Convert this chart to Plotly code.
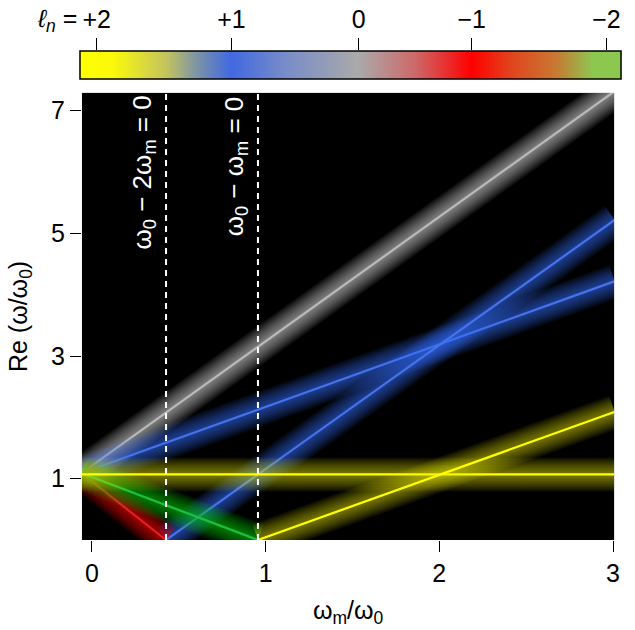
import numpy as np
import plotly.graph_objects as go

# ---------------- data ----------------
# x = omega_m / omega_0 ,  y = Re(omega / omega_0)
gray_x = [-0.06, 3.01]
gray_y = [1.09, 7.32]
blue1_x = [-0.06, 3.01]
blue1_y = [1.09, 4.22]
blue2_x = [0.427, 3.01]
blue2_y = [0.0, 5.22]
red_x = [-0.06, 0.427]
red_y = [1.09, 0.0]
green_x = [-0.06, 0.956]
green_y = [1.09, 0.0]
yellow1_x = [-0.06, 3.01]
yellow1_y = [1.07, 1.07]
yellow2_x = [0.956, 3.01]
yellow2_y = [0.0, 2.09]

dash_x = [0.427, 0.956]
dash_labels = ["ω<sub>0</sub> − 2ω<sub>m</sub> = 0", "ω<sub>0</sub> − ω<sub>m</sub> = 0"]

x_ticks = [0, 1, 2, 3]
y_ticks = [1, 3, 5, 7]

# colour bar (positions as fraction along the bar)
cb_tickpos = [0.031, 0.28, 0.515, 0.724, 0.973]
cb_ticktext = ["+2", "+1", "0", "−1", "−2"]

FONT = "Liberation Sans, Arial, Helvetica, sans-serif"
FS = 25

fig = go.Figure()

def glow_line(xs, ys, glow_rgb, core_rgb, core_w=2.2, alpha=0.07):
    r, g, b = glow_rgb
    for w in range(34, 3, -3):
        fig.add_trace(go.Scatter(x=xs, y=ys, mode="lines",
                                 line=dict(color=f"rgba({r},{g},{b},{alpha})", width=w),
                                 hoverinfo="skip", showlegend=False,
                                 xaxis="x", yaxis="y"))
    r, g, b = core_rgb
    fig.add_trace(go.Scatter(x=xs, y=ys, mode="lines",
                             line=dict(color=f"rgb({r},{g},{b})", width=core_w),
                             hoverinfo="skip", showlegend=False,
                             xaxis="x", yaxis="y"))

glow_line(gray_x, gray_y, (220, 220, 220), (185, 185, 185))
glow_line(blue1_x, blue1_y, (50, 110, 255), (70, 115, 235))
glow_line(blue2_x, blue2_y, (50, 110, 255), (70, 115, 235))
glow_line(red_x, red_y, (255, 0, 0), (230, 30, 30), alpha=0.08)
glow_line(green_x, green_y, (0, 210, 0), (30, 190, 70), alpha=0.08)
glow_line(yellow1_x, yellow1_y, (235, 235, 0), (255, 255, 0), alpha=0.058)
glow_line(yellow2_x, yellow2_y, (235, 235, 0), (255, 255, 0), alpha=0.058)

# dashed white reference lines
for xv in dash_x:
    fig.add_trace(go.Scatter(x=[xv, xv], y=[0, 7.29], mode="lines",
                             line=dict(color="white", width=2, dash="6px,5px"),
                             hoverinfo="skip", showlegend=False))

# colour bar as heatmap on a second axis pair
cb_x = np.linspace(0, 1, 400)
colorscale = [
    [0.0, "rgb(255,255,0)"],
    [0.06, "rgb(250,250,10)"],
    [0.16, "rgb(195,195,95)"],
    [0.22, "rgb(120,145,170)"],
    [0.28, "rgb(65,105,225)"],
    [0.38, "rgb(120,140,200)"],
    [0.515, "rgb(170,170,170)"],
    [0.62, "rgb(205,105,105)"],
    [0.724, "rgb(255,0,0)"],
    [0.80, "rgb(225,70,30)"],
    [0.88, "rgb(200,120,50)"],
    [0.95, "rgb(140,200,80)"],
    [1.0, "rgb(140,200,80)"],
]
fig.add_trace(go.Heatmap(x=cb_x, y=[0, 1], z=[cb_x, cb_x], colorscale=colorscale,
                         zmin=0, zmax=1, showscale=False, hoverinfo="skip",
                         xaxis="x2", yaxis="y2"))

# layout geometry
W, H = 635, 630
ml, mr, mt, mb = 78, 5, 45, 90
pw, ph = W - ml - mr, H - mt - mb
def px(xp):
    return (xp - ml) / pw
def py(yp):
    return (H - mb - yp) / ph

fig.update_layout(
    width=W, height=H,
    margin=dict(l=ml, r=mr, t=mt, b=mb),
    paper_bgcolor="white", plot_bgcolor="black",
    font=dict(family=FONT, size=FS, color="black"),
    showlegend=False,
    xaxis=dict(domain=[px(82), px(620)], range=[-0.057, 3.006], tickvals=x_ticks,
               ticks="outside", ticklen=11, tickwidth=1.2, tickcolor="black",
               showgrid=False, zeroline=False, showline=False,
               tickfont=dict(size=FS, family=FONT)),
    yaxis=dict(domain=[py(540), py(92)], range=[0, 7.29], tickvals=y_ticks,
               ticks="outside", ticklen=11, tickwidth=1.2, tickcolor="black",
               showgrid=False, zeroline=False, showline=False,
               tickfont=dict(size=FS, family=FONT)),
    xaxis2=dict(domain=[px(80), px(627)], range=[0, 1], anchor="y2", side="top",
                tickvals=cb_tickpos, ticktext=cb_ticktext, ticks="outside",
                ticklen=12, tickwidth=1.2, tickcolor="black",
                showgrid=False, zeroline=False, showline=False,
                tickfont=dict(size=FS, family=FONT)),
    yaxis2=dict(domain=[py(78), py(50)], range=[0, 1], anchor="x2",
                showticklabels=False, ticks="", showgrid=False, zeroline=False),
)

# border around colour bar
fig.add_shape(type="rect", xref="x2 domain", yref="y2 domain", x0=0, x1=1, y0=0, y1=1,
              line=dict(color="black", width=1.5), fillcolor="rgba(0,0,0,0)")

annotations = []
# "l_n =" label
annotations.append(dict(text="<i>ℓ<sub>n</sub></i> =", xref="paper", yref="paper",
                        x=px(79), y=py(19), xanchor="right", yanchor="middle",
                        showarrow=False, font=dict(size=FS, family=FONT)))
# axis titles
annotations.append(dict(text="ω<sub>m</sub>/ω<sub>0</sub>", xref="paper", yref="paper",
                        x=px(351), y=py(612), xanchor="center", yanchor="middle",
                        showarrow=False, font=dict(size=FS, family=FONT)))
annotations.append(dict(text="Re (ω/ω<sub>0</sub>)", xref="paper", yref="paper",
                        x=px(20), y=py(316), xanchor="center", yanchor="middle",
                        textangle=-90, showarrow=False, font=dict(size=FS, family=FONT)))
# rotated labels next to the dashed lines
for xv, lab in zip(dash_x, dash_labels):
    annotations.append(dict(text=lab, xref="x", yref="paper", x=xv, y=py(93),
                            xanchor="right", yanchor="top", xshift=-4,
                            textangle=-90, showarrow=False,
                            font=dict(size=26, family=FONT, color="white")))
fig.update_layout(annotations=annotations)

fig.write_html("out.html")
